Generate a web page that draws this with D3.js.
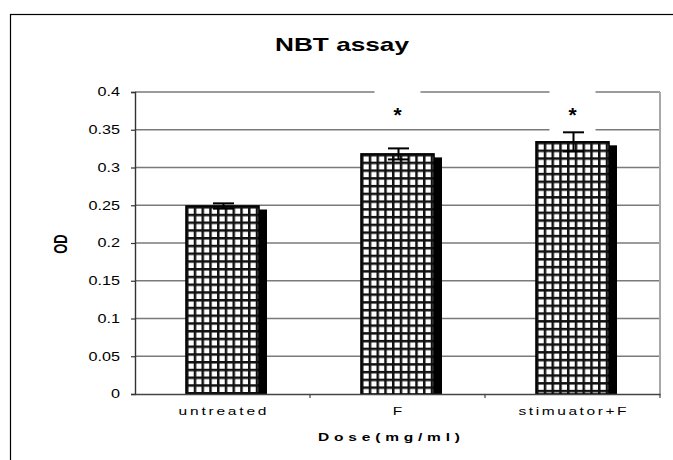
<!DOCTYPE html>
<html>
<head>
<meta charset="utf-8">
<script src="https://cdn.jsdelivr.net/npm/d3@7"></script>
<style>
  html, body { margin: 0; padding: 0; background: #fff; }
  svg { display: block; font-family: "Liberation Sans", Arial, sans-serif; }
</style>
</head>
<body>
<svg id="chart" width="673" height="460"></svg>
<script>
// ---- data ----
const categories = ["untreated", "F", "stimuator+F"];
const means = [0.249, 0.318, 0.334];
const errors = [0.0035, 0.0073, 0.0126];
const significance = ["", "*", "*"];
const yTicks = [0, 0.05, 0.1, 0.15, 0.2, 0.25, 0.3, 0.35, 0.4];
const yTickLabels = ["0", "0.05", "0.1", "0.15", "0.2", "0.25", "0.3", "0.35", "0.4"];
const titleText = "NBT assay";
const xTitle = "Dose(mg/ml)";
const yTitle = "OD";

// ---- layout ----
const svg = d3.select("#chart");
const plotLeft = 135, plotRight = 660, plotTop = 92, plotBottom = 394;
const y = d3.scaleLinear().domain([0, 0.4]).range([plotBottom, plotTop]);
const x = d3.scaleBand().domain(categories).range([plotLeft, plotRight]).padding(0);
const barW = 73;
const cell = 7.75;
const sx = 1.35; // horizontal stretch of text, as in the source image
const labelLen = {"untreated": 88, "F": 9, "stimuator+F": 108};

// outer frame
svg.append("rect").attr("x", 10.5).attr("y", 14.5).attr("width", 700).attr("height", 500)
  .attr("fill", "none").attr("stroke", "#000").attr("stroke-width", 1.2);

// title
svg.append("text").attr("x", 342).attr("y", 51).attr("text-anchor", "middle")
  .attr("font-size", 19).attr("font-weight", "bold")
  .attr("textLength", 134).attr("lengthAdjust", "spacingAndGlyphs").text(titleText);

// gridlines
svg.append("g").selectAll("line").data(yTicks.filter(d => d > 0)).join("line")
  .attr("x1", plotLeft).attr("x2", plotRight)
  .attr("y1", d => y(d)).attr("y2", d => y(d))
  .attr("stroke", "#7a7a7a").attr("stroke-width", 1.3);

// right border of plot area
svg.append("line").attr("x1", plotRight).attr("x2", plotRight)
  .attr("y1", plotTop).attr("y2", plotBottom)
  .attr("stroke", "#a8a8a8").attr("stroke-width", 2);

// patterns
const defs = svg.append("defs");
categories.forEach((c, i) => {
  const bx = x(c) + x.bandwidth() / 2 - barW / 2;
  const by = y(means[i]);
  const p = defs.append("pattern").attr("id", "grid" + i)
    .attr("patternUnits", "userSpaceOnUse")
    .attr("x", bx).attr("y", by).attr("width", cell).attr("height", cell);
  p.append("rect").attr("width", cell).attr("height", cell).attr("fill", "#fff");
  p.append("rect").attr("x", 0).attr("y", 0).attr("width", 2.5).attr("height", cell).attr("fill", "#111");
  p.append("rect").attr("x", 0).attr("y", 0).attr("width", cell).attr("height", 2.5).attr("fill", "#111");
});

// white boxes behind significance marks
const boxH = [0, 44, 48];
svg.append("g").selectAll("rect").data(categories.filter((c, i) => significance[i])).join("rect")
  .attr("x", c => x(c) + x.bandwidth() / 2 - 23)
  .attr("y", 84)
  .attr("width", 46)
  .attr("height", c => boxH[categories.indexOf(c)])
  .attr("fill", "#fff");

// shadows
svg.append("g").selectAll("rect").data(categories).join("rect")
  .attr("x", (c) => x(c) + x.bandwidth() / 2 - barW / 2 + 8)
  .attr("y", (c, i) => y(means[i]) + 3.5)
  .attr("width", barW)
  .attr("height", (c, i) => plotBottom - y(means[i]) - 3.5)
  .attr("fill", "#000");

// bars
svg.append("g").selectAll("rect").data(categories).join("rect")
  .attr("x", (c) => x(c) + x.bandwidth() / 2 - barW / 2)
  .attr("y", (c, i) => y(means[i]))
  .attr("width", barW)
  .attr("height", (c, i) => plotBottom - y(means[i]))
  .attr("fill", (c, i) => `url(#grid${i})`)
  .attr("stroke", "#000").attr("stroke-width", 1.6);

// error bars
const eg = svg.append("g").attr("stroke", "#000").attr("stroke-width", 2);
categories.forEach((c, i) => {
  const cx = x(c) + x.bandwidth() / 2 + 1;
  const yt = y(means[i] + errors[i]), yb = y(means[i] - errors[i]);
  eg.append("line").attr("x1", cx).attr("x2", cx).attr("y1", yt).attr("y2", yb);
  eg.append("line").attr("x1", cx - 10.5).attr("x2", cx + 10.5).attr("y1", yt).attr("y2", yt);
  eg.append("line").attr("x1", cx - 10.5).attr("x2", cx + 10.5).attr("y1", yb).attr("y2", yb);
});

// significance
svg.append("g").selectAll("text").data(categories).join("text")
  .attr("x", c => x(c) + x.bandwidth() / 2)
  .attr("y", 122)
  .attr("text-anchor", "middle").attr("font-size", 21).attr("font-weight", "bold")
  .text((c, i) => significance[i]);

// y axis
const yAxis = svg.append("g").attr("transform", `translate(${plotLeft},0)`)
  .call(d3.axisLeft(y).tickValues(yTicks).tickFormat((d, i) => yTickLabels[i]).tickSize(4).tickPadding(0));
yAxis.select(".domain").attr("stroke", "#333").attr("stroke-width", 1.4);
yAxis.selectAll(".tick line").attr("stroke", "#333").attr("stroke-width", 1.2);
yAxis.selectAll(".tick text")
  .attr("x", null)
  .attr("transform", `translate(-15,0) scale(${sx},1)`)
  .attr("font-size", 12).attr("fill", "#000")
  .attr("font-family", "Liberation Sans, Arial, sans-serif");

// x axis
const xAxis = svg.append("g").attr("transform", `translate(0,${plotBottom})`)
  .call(d3.axisBottom(x).tickSize(0).tickFormat(""));
xAxis.select(".domain").attr("stroke", "#444").attr("stroke-width", 1.4);
svg.append("g").selectAll("line").data(categories).join("line")
  .attr("x1", c => x(c) + x.bandwidth()).attr("x2", c => x(c) + x.bandwidth())
  .attr("y1", plotBottom).attr("y2", plotBottom + 4)
  .attr("stroke", "#444").attr("stroke-width", 1.2);
svg.append("g").selectAll("text").data(categories).join("text")
  .attr("transform", c => `translate(${x(c) + x.bandwidth() / 2},415) scale(${sx},1)`)
  .attr("text-anchor", "middle").attr("font-size", 11.5)
  .attr("textLength", c => labelLen[c] / sx).attr("lengthAdjust", "spacing")
  .text(c => c);

// axis titles
svg.append("text").attr("transform", `translate(389,441) scale(${sx},1)`)
  .attr("text-anchor", "middle").attr("font-size", 11.5).attr("font-weight", "bold")
  .attr("textLength", 142 / sx).attr("lengthAdjust", "spacing").text(xTitle);
svg.append("text").attr("transform", `translate(67,244) rotate(-90) scale(1,${sx})`)
  .attr("text-anchor", "middle").attr("font-size", 13).attr("font-weight", "bold")
  .text(yTitle);
</script>
</body>
</html>
